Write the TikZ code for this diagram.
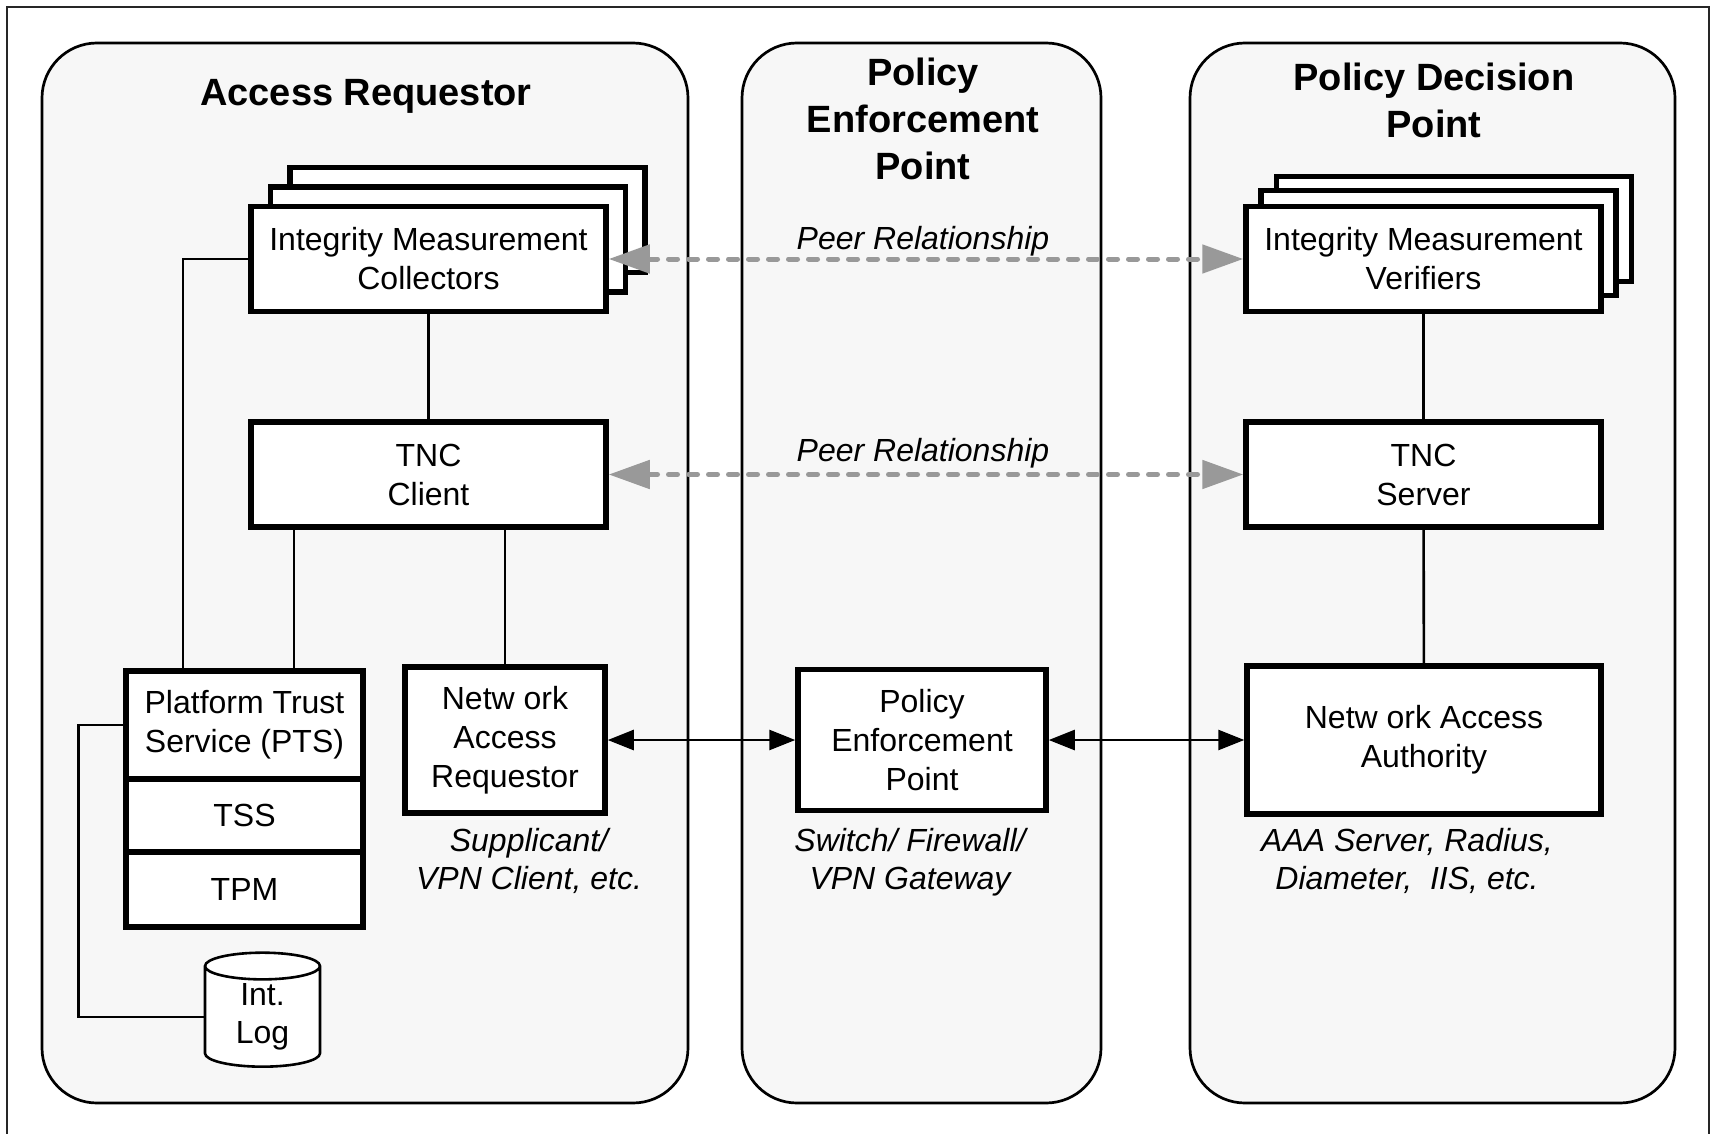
\documentclass[tikz,border=0pt]{standalone}
\usepackage{fontspec}
\setmainfont{Liberation Sans}
\usetikzlibrary{arrows.meta,shapes.geometric}
\definecolor{panelfill}{RGB}{247,247,247}
\definecolor{peergray}{RGB}{153,153,153}

\begin{document}
\begin{tikzpicture}[
    x=1pt, y=-1pt,
    panel/.style={draw=black, line width=2.7pt, fill=panelfill,
        rounded corners=55pt, inner sep=0pt, minimum height=1060pt},
    title/.style={font=\fontsize{38}{47}\selectfont\bfseries, align=center},
    box/.style={draw=black, line width=5.5pt, fill=white, inner sep=0pt,
        align=center, font=\fontsize{32}{39}\selectfont},
    imbox/.style={box, minimum width=355pt, minimum height=105pt},
    logbox/.style={cylinder, shape border rotate=90, aspect=0.5, draw=black,
        line width=2.6pt, fill=white, minimum width=115pt, minimum height=114pt,
        inner sep=0pt, align=center, font=\fontsize{32}{38}\selectfont},
    note/.style={align=center, font=\fontsize{32}{38}\selectfont\itshape},
    edge/.style={line width=2.6pt, -},
    peer/.style={line width=5pt, draw=peergray, dash pattern=on 9pt off 11pt,
        line cap=round,
        {Triangle[length=41pt,width=28pt]}-{Triangle[length=41pt,width=28pt]}},
    link/.style={line width=2.6pt,
        {Triangle[length=26pt,width=20pt]}-{Triangle[length=26pt,width=20pt]}}
]
    \useasboundingbox (0,0) rectangle (1713,1134);
    \draw[line width=2.5pt, black!85] (7,1134) -- (7,7) -- (1709,7) -- (1709,1134);

    \node[panel, minimum width=646pt] (ar) at (365,573) {};
    \node[panel, minimum width=359pt] (pe) at (921.5,573) {};
    \node[panel, minimum width=485pt] (pd) at (1432.5,573) {};
    \node[title] (artitle) at (366,96) {Access Requestor};
    \node[title] (petitle) at (923,119) {Policy\\Enforcement\\Point};
    \node[title] (pdtitle) at (1434,100) {Policy Decision\\Point};

    \node[imbox] (imc3) at (467.5,220) {};
    \node[imbox] (imc2) at (448,239.5) {};
    \node[imbox] (imc) at (428.5,259) {Integrity Measurement\\Collectors};
    \node[imbox] (tncc) at (428.5,474.5) {TNC\\Client};
    \node[box, minimum width=237pt, minimum height=108pt] (pts) at (244.5,725) {Platform Trust\\Service (PTS)};
    \node[box, minimum width=237pt, minimum height=73pt] (tss) at (244.5,815.5) {TSS};
    \node[box, minimum width=237pt, minimum height=75pt] (tpm) at (244.5,889.5) {TPM};
    \node[box, minimum width=200pt, minimum height=146pt] (nar) at (505,740) {Netw ork\\Access\\Requestor};
    \node[logbox] (log) at (262.5,1017) {Int.\\Log};
    \node[note] (supp) at (529,861) {Supplicant/\\VPN Client, etc.};

    \node[box, minimum width=248pt, minimum height=141pt] (pep) at (922,740) {Policy\\Enforcement\\Point};
    \node[note] (sw) at (910,862) {Switch/ Firewall/\\VPN Gateway};
    \node[note] (peer1) at (923,241) {Peer Relationship};
    \node[note] (peer2) at (923,453) {Peer Relationship};

    \node[imbox] (imv3) at (1454,229) {};
    \node[imbox] (imv2) at (1438.5,243) {};
    \node[imbox] (imv) at (1423.5,259) {Integrity Measurement\\Verifiers};
    \node[imbox] (tncs) at (1423.5,474.5) {TNC\\Server};
    \node[box, minimum width=354pt, minimum height=148pt] (naa) at (1424,740) {Netw ork Access\\Authority};
    \node[note] (aaa) at (1407,861) {AAA Server, Radius,\\Diameter,~ IIS, etc.};

    \draw[edge] (imc) -- (tncc);
    \draw[edge] (imc.west) -| ([xshift=-61.5pt]pts.north);
    \draw[edge] ([xshift=49.5pt]pts.north) -- ([xshift=49.5pt]pts.north |- tncc.south);
    \draw[edge] (nar.north) -- (nar.north |- tncc.south);
    \draw[edge] (pts.west) -- ++(-45,0) |- (log.west);
    \draw[edge] (imv) -- (tncs);
    \draw[edge] (tncs) -- (naa);
    \draw[peer] (imc.east) -- (imv.west);
    \draw[peer] (tncc.east) -- (tncs.west);
    \draw[link] (nar) -- (pep);
    \draw[link] (pep) -- (naa);
\end{tikzpicture}
\end{document}
